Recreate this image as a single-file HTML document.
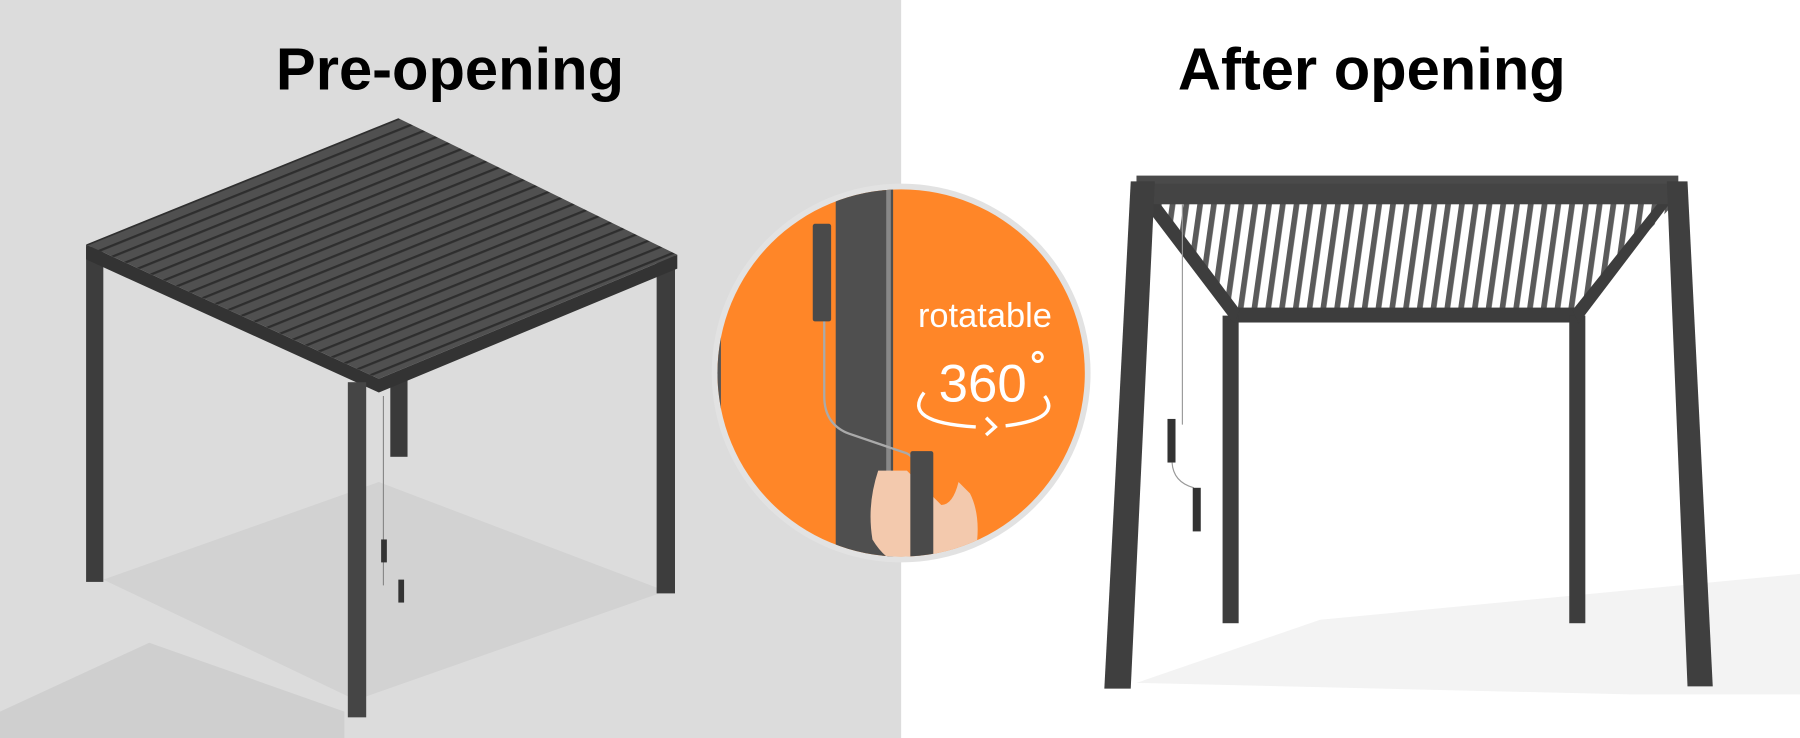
<!DOCTYPE html>
<html><head><meta charset="utf-8"><style>
html,body{margin:0;padding:0;width:1800px;height:738px;overflow:hidden;background:#fff}
svg{display:block}
</style></head><body>
<svg width="1800" height="738" viewBox="0 0 1568 643" preserveAspectRatio="none" xmlns="http://www.w3.org/2000/svg">
<defs>
<pattern id="sl" width="9" height="9" patternUnits="userSpaceOnUse" patternTransform="rotate(-22)">
<rect width="9" height="9" fill="#505050"/><rect width="9" height="2" fill="#2e2e2e"/>
</pattern>
<pattern id="sr" width="12" height="12" patternUnits="userSpaceOnUse" patternTransform="skewX(-8)">
<rect width="12" height="12" fill="#fff"/><rect width="5" height="12" fill="#5a5a5a"/>
</pattern>
<clipPath id="cc"><circle cx="785" cy="325" r="160"/></clipPath>
</defs>
<rect x="0" y="0" width="785" height="643" fill="#dcdcdc"/>
<polygon points="90,505 310,610 580,515 330,420" fill="#d2d2d2"/>
<polygon points="0,620 130,560 300,620 300,643 0,643" fill="#cfcfcf"/>
<text x="392" y="78" font-family="Liberation Sans, sans-serif" font-weight="bold" font-size="52" text-anchor="middle" fill="#000">Pre-opening</text>
<text x="1195" y="78" font-family="Liberation Sans, sans-serif" font-weight="bold" font-size="52" text-anchor="middle" fill="#000">After opening</text>
<!-- left pergola -->
<rect x="75" y="215" width="15" height="292" fill="#3d3d3d"/>
<rect x="572" y="222" width="16" height="295" fill="#3d3d3d"/>
<rect x="340" y="328" width="15" height="70" fill="#3a3a3a"/>
<polygon points="75,213 330,330 590,222 590,234 330,342 75,226" fill="#333"/>
<polygon points="75,213 347,103 590,222 330,330" fill="url(#sl)"/>
<rect x="303" y="333" width="16" height="292" fill="#454545"/>
<line x1="334" y1="345" x2="334" y2="510" stroke="#888" stroke-width="1"/>
<rect x="332" y="470" width="5" height="20" fill="#333"/>
<rect x="347" y="505" width="5" height="20" fill="#333"/>
<!-- circle -->
<circle cx="785" cy="325" r="165" fill="#e2e2e2"/>
<g clip-path="url(#cc)">
<rect x="600" y="150" width="380" height="350" fill="#ff8628"/>
<rect x="620" y="150" width="8" height="350" fill="#555"/>
<rect x="728" y="150" width="50" height="350" fill="#4f4f4f"/>
<rect x="772" y="150" width="4" height="350" fill="#888"/>
<path d="M718,210 V345 Q718,370 740,378 L790,395 Q800,400 800,420" fill="none" stroke="#aaa" stroke-width="2"/>
<rect x="708" y="195" width="16" height="85" rx="2" fill="#4a4a4a"/>
<path d="M765,410 Q755,440 760,470 Q775,495 800,495 L850,480 Q855,450 845,430 L835,420 Q830,440 820,440 L790,410 Z" fill="#f3c9ad"/>
<rect x="793" y="393" width="20" height="100" rx="2" fill="#4a4a4a"/>
<text x="858" y="285" font-family="Liberation Sans, sans-serif" font-size="30" text-anchor="middle" fill="#fff">rotatable</text>
<text x="856" y="350" font-family="Liberation Sans, sans-serif" font-size="46" text-anchor="middle" fill="#fff">360</text>
<circle cx="904" cy="311" r="4" fill="none" stroke="#fff" stroke-width="2.5"/>
<path d="M805,342 Q785,368 850,372" fill="none" stroke="#fff" stroke-width="3"/>
<path d="M859,364 L867,372 L859,379" fill="none" stroke="#fff" stroke-width="3"/>
<path d="M876,371 Q925,365 910,345" fill="none" stroke="#fff" stroke-width="3"/>
</g>
<!-- right pergola shadow -->
<polygon points="990,595 1150,540 1568,500 1568,605 1420,605" fill="#f3f3f3"/>
<polygon points="1000,176 1460,176 1370,270 1080,270" fill="url(#sr)"/>
<rect x="990" y="153" width="472" height="8" fill="#4a4a4a"/>
<rect x="1075" y="268" width="298" height="13" fill="#3d3d3d"/>
<rect x="1065" y="275" width="14" height="268" fill="#3d3d3d"/>
<rect x="1367" y="275" width="14" height="268" fill="#3d3d3d"/>
<polygon points="990,170 1005,170 1080,270 1075,282" fill="#3d3d3d"/>
<polygon points="1460,170 1450,170 1370,270 1375,282" fill="#3d3d3d"/>
<rect x="990" y="160" width="470" height="18" fill="#444"/>
<polygon points="985,158 1006,158 985,600 962,600" fill="#3f3f3f"/>
<polygon points="1452,158 1470,158 1492,598 1470,598" fill="#3f3f3f"/>
<line x1="1030" y1="178" x2="1030" y2="370" stroke="#999" stroke-width="1"/>
<rect x="1017" y="365" width="7" height="38" fill="#333"/>
<path d="M1021,403 Q1022,420 1040,425" fill="none" stroke="#999"/>
<rect x="1039" y="425" width="7" height="38" fill="#333"/>
</svg>
</body></html>
